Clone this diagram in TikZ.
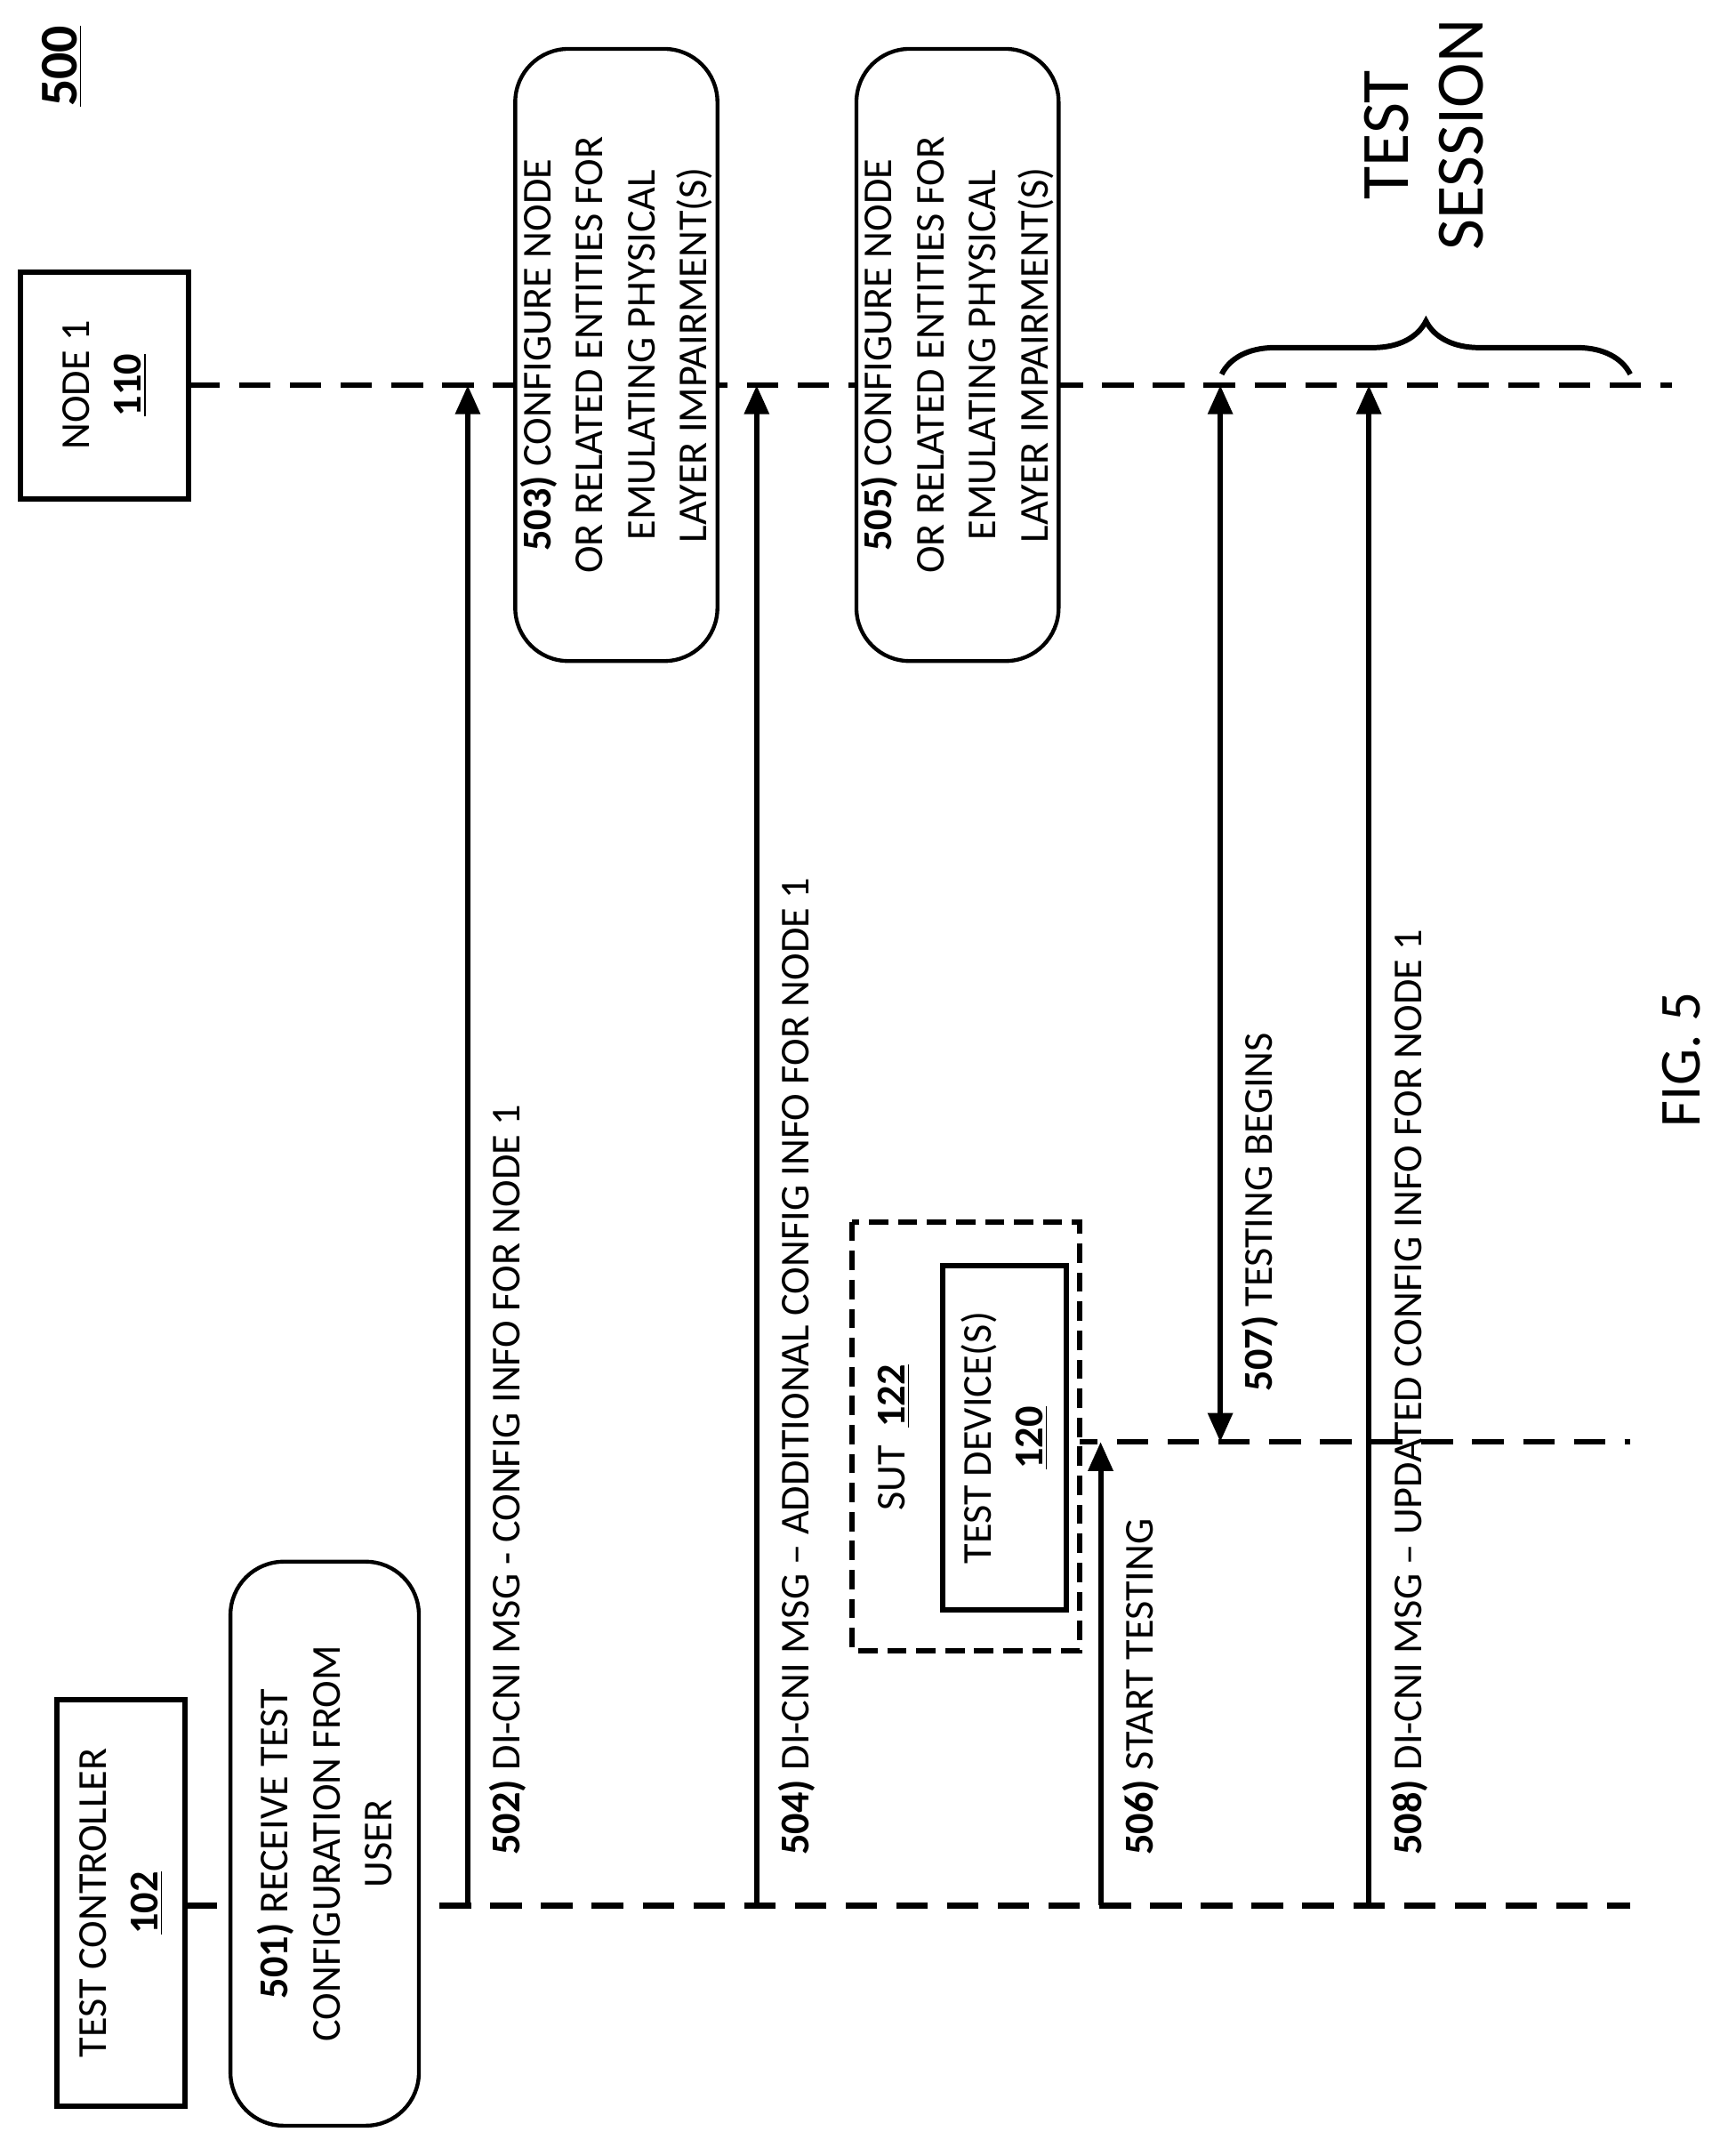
\documentclass[tikz,border=0pt]{standalone}
\usepackage{fontspec}
\setmainfont{Carlito}
\usetikzlibrary{arrows.meta,decorations.pathreplacing}

\begin{document}
\begin{tikzpicture}[x=0.02cm,y=-0.02cm,
    every node/.style={font=\fontsize{17}{21.5}\selectfont,align=center,rotate=90},
    box/.style={draw,line width=2.2pt,inner sep=0pt,fill=white},
    rbox/.style={draw,line width=1.6pt,rounded corners=22pt,inner sep=0pt,fill=white},
    life/.style={line width=2.4pt,dash pattern=on 13pt off 8pt},
    msg/.style={line width=2.2pt,-{Triangle[length=12pt,width=10pt]}},
    lbl/.style={anchor=north west,inner sep=2pt}]
  \useasboundingbox (0,0) rectangle (1250,1567);
  % title
  \node[font=\fontsize{22}{24}\selectfont] (title) at (45,48) {\textbf{\underline{500}}};
  % lifelines
  \coordinate (n1beg) at (137,280);
  \coordinate (n1end) at (1215,280);
  \coordinate (tcbeg) at (135,1385);
  \coordinate (tcend) at (1185,1385);
  \coordinate (devbeg) at (775,1048);
  \coordinate (devend) at (1185,1048);
  \draw[life] (n1beg) -- (n1end);
  \draw[life] (tcbeg) -- (tcend);
  \draw[life] (devbeg) -- (devend);
  % actors
  \node[box,minimum width=3.3cm,minimum height=2.44cm] (node1) at (76,280)
    {NODE 1\\\textbf{\underline{110}}};
  \node[box,minimum width=5.9cm,minimum height=1.86cm] (tc) at (88,1383)
    {TEST CONTROLLER\\\textbf{\underline{102}}};
  \node[box,dash pattern=on 8pt off 4pt,minimum width=6.24cm,minimum height=3.3cm] (sut) at (702,1044) {};
  \node (sutlbl) at (650,1045) {SUT \ \textbf{\underline{122}}};
  \node[box,minimum width=5cm,minimum height=1.8cm] (dev) at (730,1045)
    {TEST DEVICE(S)\\\textbf{\underline{120}}};
  % notes
  \node[rbox,minimum width=8.2cm,minimum height=2.74cm] (s501) at (236,1340)
    {\textbf{501)} RECEIVE TEST\\CONFIGURATION FROM\\USER};
  \node[rbox,minimum width=8.9cm,minimum height=2.94cm] (s503) at (448,258)
    {\textbf{503)} CONFIGURE NODE\\OR RELATED ENTITIES FOR\\EMULATING PHYSICAL\\LAYER IMPAIRMENT(S)};
  \node[rbox,minimum width=8.9cm,minimum height=2.94cm] (s505) at (696,258)
    {\textbf{505)} CONFIGURE NODE\\OR RELATED ENTITIES FOR\\EMULATING PHYSICAL\\LAYER IMPAIRMENT(S)};
  % messages
  \coordinate (m502s) at (340,1385); \coordinate (m502e) at (340,280);
  \coordinate (m504s) at (550,1385); \coordinate (m504e) at (550,280);
  \coordinate (m506s) at (800,1385); \coordinate (m506e) at (800,1048);
  \coordinate (m507s) at (887,1048); \coordinate (m507e) at (887,280);
  \coordinate (m508s) at (995,1385); \coordinate (m508e) at (995,280);
  \draw[msg] (m502s) -- (m502e);
  \draw[msg] (m504s) -- (m504e);
  \draw[msg] (m506s) -- (m506e);
  \draw[msg,{Triangle[length=12pt,width=10pt]}-{Triangle[length=12pt,width=10pt]}] (m507s) -- (m507e);
  \draw[msg] (m508s) -- (m508e);
  \node[lbl] (l502) at (352,1352) {\textbf{502)} DI-CNI MSG - CONFIG INFO FOR NODE 1};
  \node[lbl] (l504) at (562,1352) {\textbf{504)} DI-CNI MSG -- ADDITIONAL CONFIG INFO FOR NODE 1};
  \node[lbl] (l506) at (812,1352) {\textbf{506)} START TESTING};
  \node[lbl] (l507) at (899,1015) {\textbf{507)} TESTING BEGINS};
  \node[lbl] (l508) at (1007,1352) {\textbf{508)} DI-CNI MSG -- UPDATED CONFIG INFO FOR NODE 1};
  % test session
  \coordinate (bra) at (888,272); \coordinate (brb) at (1185,272);
  \draw[line width=2.2pt,decorate,decoration={brace,amplitude=22pt}] (bra) -- (brb);
  \node[font=\fontsize{28}{31}\selectfont] (sess) at (1035,98) {TEST\\SESSION};
  \node[font=\fontsize{24}{26}\selectfont] (fig) at (1222,770) {FIG. 5};
\end{tikzpicture}
\end{document}
